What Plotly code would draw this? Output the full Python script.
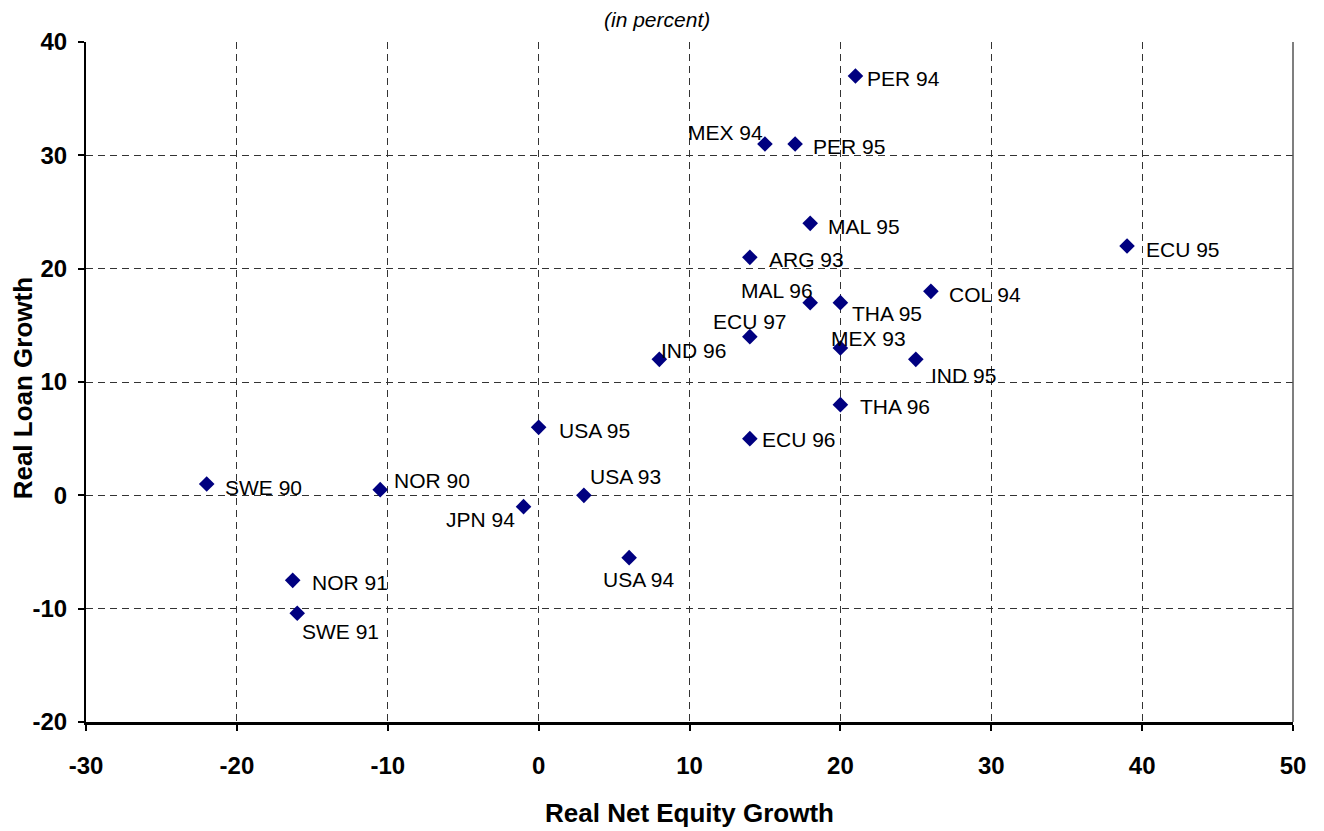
import plotly.graph_objects as go

labels = ["PER 94", "MEX 94", "PER 95", "MAL 95", "ARG 93", "ECU 95", "COL 94",
          "MAL 96", "THA 95", "ECU 97", "MEX 93", "IND 95", "IND 96", "THA 96",
          "ECU 96", "USA 95", "SWE 90", "NOR 90", "USA 93", "JPN 94", "USA 94",
          "NOR 91", "SWE 91"]
equity_growth = [21, 15, 17, 18, 14, 39, 26, 18, 20, 14, 20, 25, 8, 20,
                 14, 0, -22, -10.5, 3, -1, 6, -16.3, -16]
loan_growth = [37, 31, 31, 24, 21, 22, 18, 17, 17, 14, 13, 12, 12, 8,
               5, 6, 1, 0.5, 0, -1, -5.5, -7.5, -10.4]

x_ticks = [-30, -20, -10, 0, 10, 20, 30, 40, 50]
y_ticks = [-20, -10, 0, 10, 20, 30, 40]

# label placement style: (xanchor, xshift, yshift)
label_style = {
    "PER 94": ("left", 10, -2), "MEX 94": ("right", 0, 12), "PER 95": ("left", 16, -2),
    "MAL 95": ("left", 16, -3), "ARG 93": ("left", 17, -2), "ECU 95": ("left", 17, -3),
    "COL 94": ("left", 16, -3), "MAL 96": ("right", 5, 12), "THA 95": ("left", 10, -11),
    "ECU 97": ("center", 0, 15), "MEX 93": ("left", -11, 10), "IND 95": ("left", 13, -16),
    "IND 96": ("left", 0, 9), "THA 96": ("left", 18, -2), "ECU 96": ("left", 10, -1),
    "USA 95": ("left", 18, -3), "SWE 90": ("left", 16, -3), "NOR 90": ("left", 12, 9),
    "USA 93": ("left", 4, 19), "JPN 94": ("right", -7, -13), "USA 94": ("center", 10, -22),
    "NOR 91": ("left", 17, -2), "SWE 91": ("left", 3, -18),
}

FONT = "Liberation Sans, Arial, sans-serif"

fig = go.Figure()
fig.add_trace(go.Scatter(
    x=equity_growth, y=loan_growth, mode="markers",
    marker=dict(symbol="diamond", size=12, color="#000080", line=dict(width=0)),
    hovertext=labels, showlegend=False,
))

annotations = []
for lab, xv, yv in zip(labels, equity_growth, loan_growth):
    xa, xs, ys = label_style[lab]
    annotations.append(dict(
        x=xv, y=yv, xref="x", yref="y", text=lab, showarrow=False,
        xanchor=xa, yanchor="middle", xshift=xs, yshift=ys,
        font=dict(family=FONT, size=21, color="black"),
    ))

annotations.append(dict(
    x=0.473, y=1.033, xref="paper", yref="paper", text="<i>(in percent)</i>",
    showarrow=False, xanchor="center", yanchor="middle",
    font=dict(family=FONT, size=21, color="black"),
))
annotations.append(dict(
    x=0.5, y=-0.134, xref="paper", yref="paper", text="<b>Real Net Equity Growth</b>",
    showarrow=False, xanchor="center", yanchor="middle",
    font=dict(family=FONT, size=26, color="black"),
))
annotations.append(dict(
    x=-0.052, y=0.491, xref="paper", yref="paper", text="<b>Real Loan Growth</b>",
    showarrow=False, xanchor="center", yanchor="middle", textangle=-90,
    font=dict(family=FONT, size=26, color="black"),
))

fig.update_layout(
    width=1316, height=823,
    margin=dict(l=78, r=31, t=34, b=109, autoexpand=False),
    paper_bgcolor="white", plot_bgcolor="white",
    annotations=annotations,
    font=dict(family=FONT, color="black"),
    shapes=[dict(type="line", xref="paper", yref="paper", x0=1, x1=1, y0=0, y1=1,
                 line=dict(color="#555555", width=1.5))],
)

fig.update_xaxes(
    range=[-30, 50], tickvals=x_ticks, ticktext=[str(v) for v in x_ticks],
    tickfont=dict(family=FONT, size=24, color="black", weight="bold"),
    showgrid=True, gridcolor="#333333", griddash="7px,5px", gridwidth=1,
    showline=True, linecolor="black", linewidth=3,
    ticks="outside", ticklen=6, tickwidth=2, tickcolor="black",
    ticklabelstandoff=14,
    zeroline=False, mirror=False, automargin=False,
)
fig.update_yaxes(
    range=[-20, 40], tickvals=y_ticks, ticktext=[str(v) for v in y_ticks],
    tickfont=dict(family=FONT, size=24, color="black", weight="bold"),
    showgrid=True, gridcolor="#333333", griddash="7px,5px", gridwidth=1,
    showline=True, linecolor="black", linewidth=2,
    ticks="outside", ticklen=6, tickwidth=2, tickcolor="black",
    ticklabelstandoff=6,
    zeroline=False, automargin=False,
)

fig.write_html("out.html")
